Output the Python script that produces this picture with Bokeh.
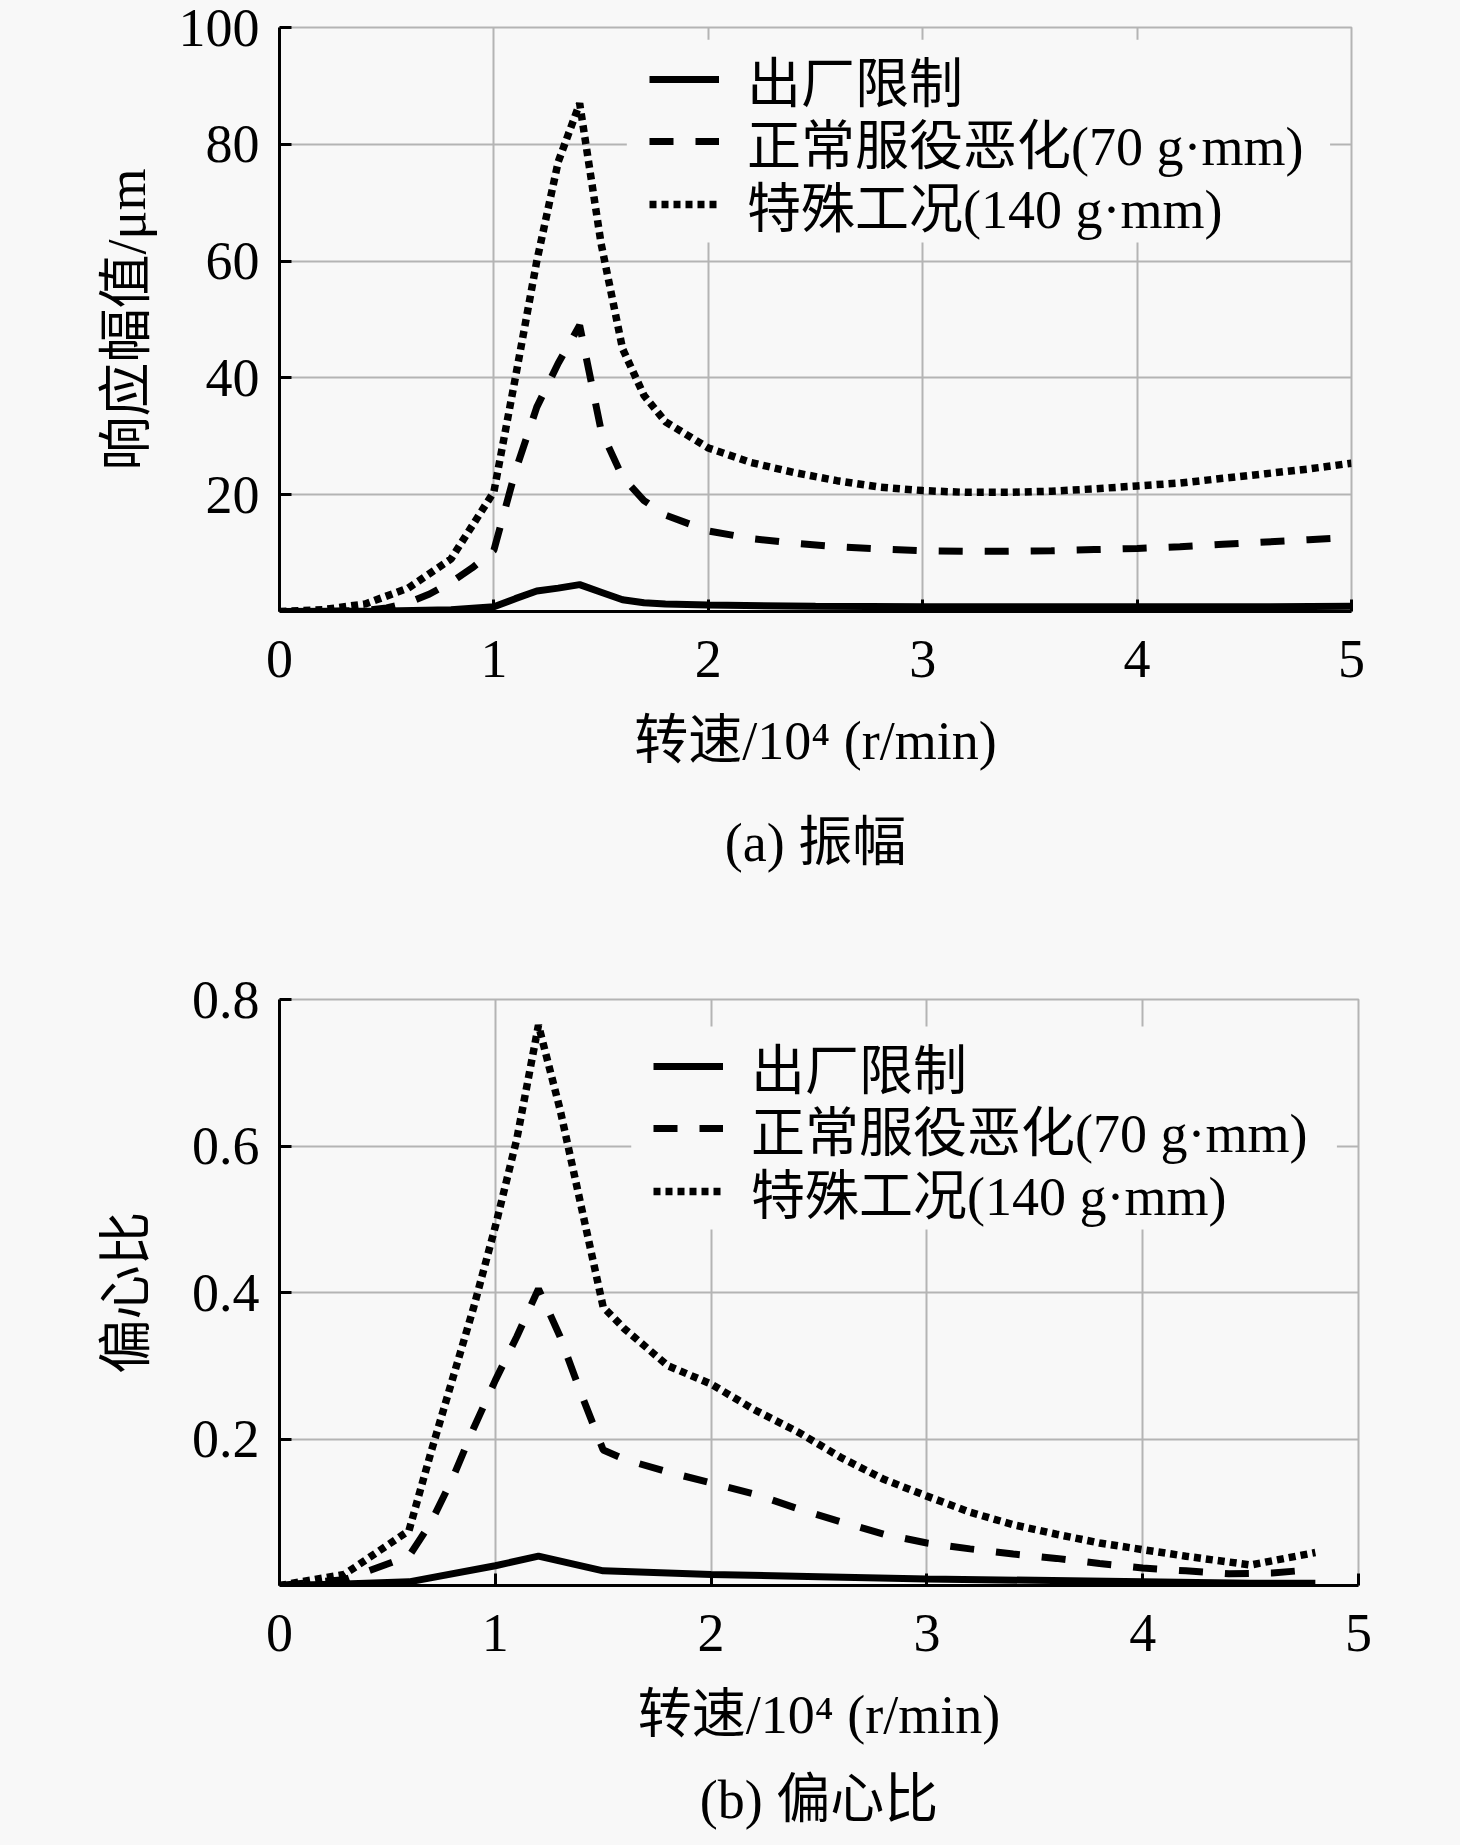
from bokeh.plotting import figure
from bokeh.layouts import column
from bokeh.models import Range1d, FixedTicker, Title, Legend, LegendItem, BoxAnnotation
from bokeh.embed import file_html
from bokeh.resources import INLINE

FONT = "'Liberation Serif', 'Noto Sans CJK SC'"
BG = "#f8f8f8"
GRID = "#b4b4b4"

names = ["出厂限制", "正常服役恶化(70 g·mm)", "特殊工况(140 g·mm)"]
x_ticks = [0, 1, 2, 3, 4, 5]

# (a) response amplitude, um  (speed in 10^4 r/min)
amp_x_limit = [0, 0.5, 0.8, 1.0, 1.1, 1.2, 1.3, 1.4, 1.5, 1.6, 1.7, 1.8, 2.0, 2.5, 3.0, 3.5, 4.0, 4.5, 5.0]
amp_limit = [0, 0.1, 0.3, 0.8, 2.2, 3.5, 4.0, 4.6, 3.3, 2.0, 1.5, 1.3, 1.1, 0.9, 0.8, 0.8, 0.8, 0.8, 0.9]

amp_x_normal = [0, 0.2, 0.4, 0.5, 0.6, 0.7, 0.8, 0.9, 1.0, 1.1, 1.2, 1.3, 1.4, 1.5, 1.6, 1.7, 1.8, 2.0,
                2.2, 2.4, 2.6, 2.8, 3.0, 3.2, 3.4, 3.6, 3.8, 4.0, 4.2, 4.4, 4.6, 4.8, 5.0]
amp_normal = [0, 0, 0.2, 0.6, 1.5, 3.0, 5.0, 7.5, 10.5, 24, 35, 42.5, 49, 31, 23, 19, 16.5, 13.8,
              12.5, 11.7, 11.1, 10.7, 10.4, 10.3, 10.3, 10.4, 10.6, 10.8, 11.1, 11.5, 11.9, 12.3, 12.7]

amp_x_special = [0, 0.2, 0.4, 0.6, 0.8, 1.0, 1.1, 1.2, 1.3, 1.4, 1.5, 1.6, 1.7, 1.8, 2.0, 2.2, 2.4, 2.6,
                 2.8, 3.0, 3.2, 3.4, 3.6, 3.8, 4.0, 4.2, 4.4, 4.6, 4.8, 5.0]
amp_special = [0, 0.3, 1.3, 4.0, 9.0, 20.5, 40, 60, 77, 87, 63, 45, 37, 32.5, 28, 25.5, 23.8, 22.4,
               21.3, 20.7, 20.4, 20.4, 20.6, 21.0, 21.5, 22.0, 22.8, 23.6, 24.4, 25.4]

amp_y_ticks = [20, 40, 60, 80, 100]

# (b) eccentricity ratio
ecc_x_limit = [0, 0.3, 0.6, 1.0, 1.2, 1.5, 2.0, 2.5, 3.0, 3.5, 4.0, 4.5, 4.8]
ecc_limit = [0, 0.002, 0.005, 0.027, 0.040, 0.020, 0.015, 0.012, 0.009, 0.007, 0.005, 0.003, 0.003]

ecc_x_normal = [0, 0.3, 0.6, 0.7, 0.8, 0.9, 1.0, 1.1, 1.2, 1.3, 1.4, 1.5, 1.6, 1.8, 2.0, 2.2, 2.4, 2.6,
                2.8, 3.0, 3.2, 3.4, 3.6, 3.8, 4.0, 4.2, 4.4, 4.6, 4.8]
ecc_normal = [0, 0.008, 0.04, 0.085, 0.145, 0.215, 0.28, 0.34, 0.405, 0.34, 0.26, 0.185, 0.172, 0.155,
              0.14, 0.125, 0.105, 0.087, 0.07, 0.058, 0.05, 0.043, 0.037, 0.03, 0.024, 0.02, 0.016, 0.017, 0.022]

ecc_x_special = [0, 0.3, 0.6, 0.7, 0.8, 0.9, 1.0, 1.1, 1.2, 1.3, 1.4, 1.5, 1.6, 1.8, 2.0, 2.2, 2.4, 2.6,
                 2.8, 3.0, 3.2, 3.4, 3.6, 3.8, 4.0, 4.2, 4.5, 4.8]
ecc_special = [0, 0.015, 0.075, 0.18, 0.28, 0.38, 0.49, 0.61, 0.765, 0.65, 0.515, 0.38, 0.35, 0.30,
               0.275, 0.24, 0.21, 0.175, 0.145, 0.122, 0.10, 0.083, 0.07, 0.058, 0.049, 0.04, 0.028, 0.045]

ecc_y_ticks = [0.2, 0.4, 0.6, 0.8]


def make_panel(curves, y_end, y_ticks, y_label, caption, left, frame_w, frame_h,
               top, bottom, legend_x, legend_ys, legend_bg, label_standoff, caption_standoff):
    p = figure(frame_width=frame_w, frame_height=frame_h,
               min_border_left=left, min_border_right=1460 - left - frame_w,
               min_border_top=top, min_border_bottom=bottom,
               x_range=Range1d(0, 5), y_range=Range1d(0, y_end),
               output_backend="svg", toolbar_location=None, tools="")
    p.background_fill_color = BG
    p.border_fill_color = BG
    p.outline_line_color = GRID
    p.outline_line_width = 2

    # blank patch behind the legend that hides the grid there
    bl, br, bb, bt = legend_bg
    p.add_layout(BoxAnnotation(left=bl, right=br, bottom=bb, top=bt,
                               fill_color=BG, fill_alpha=1, line_color=None))

    dashes = ["solid", "24 22", "7 5"]
    widths = [7, 7, 7.5]
    lines = []
    for (xs, ys), dash, w in zip(curves, dashes, widths):
        lines.append(p.line(xs, ys, line_color="black", line_width=w, line_dash=dash))

    for r, name, ly in zip(lines, names, legend_ys):
        lg = Legend(items=[LegendItem(label=name, renderers=[r])], location=(legend_x, ly))
        lg.background_fill_alpha = 0
        lg.border_line_color = None
        lg.label_text_font = FONT
        lg.label_text_font_size = "54px"
        lg.label_text_color = "black"
        lg.glyph_width = 70
        lg.glyph_height = 90
        lg.label_height = 90
        lg.label_standoff = 28
        lg.padding = 0
        lg.margin = 0
        p.add_layout(lg)

    p.xaxis.ticker = FixedTicker(ticks=x_ticks)
    p.yaxis.ticker = FixedTicker(ticks=y_ticks)
    for g in (p.xgrid, p.ygrid):
        g.grid_line_color = GRID
        g.grid_line_width = 2
    for ax in (p.xaxis, p.yaxis):
        ax.axis_line_width = 3
        ax.axis_line_color = "black"
        ax.major_tick_line_width = 3
        ax.major_tick_in = 12
        ax.major_tick_out = 0
        ax.minor_tick_in = 0
        ax.minor_tick_out = 0
        ax.major_label_text_font = FONT
        ax.major_label_text_font_size = "54px"
        ax.major_label_text_color = "black"
        ax.axis_label_text_font = FONT
        ax.axis_label_text_font_size = "54px"
        ax.axis_label_text_font_style = "normal"
        ax.axis_label_text_color = "black"
    p.yaxis.major_label_standoff = 20
    p.yaxis.axis_label = y_label
    p.yaxis.axis_label_standoff = label_standoff
    p.xaxis.major_label_standoff = 29
    p.xaxis.axis_label = "转速/10⁴ (r/min)"
    p.xaxis.axis_label_standoff = 31

    p.add_layout(Title(text=caption, align="center", text_font=FONT, text_font_size="54px",
                       text_font_style="normal", text_color="black",
                       standoff=caption_standoff), "below")
    return p


top_panel = make_panel(
    [(amp_x_limit, amp_limit), (amp_x_normal, amp_normal), (amp_x_special, amp_special)],
    100, amp_y_ticks, "响应幅值/μm", "(a) 振幅",
    left=279, frame_w=1072, frame_h=584, top=27, bottom=328,
    legend_x=370, legend_ys=[487, 425, 362], legend_bg=(1.62, 4.9, 63.2, 97.9),
    label_standoff=19, caption_standoff=75)

bottom_panel = make_panel(
    [(ecc_x_limit, ecc_limit), (ecc_x_normal, ecc_normal), (ecc_x_special, ecc_special)],
    0.8, ecc_y_ticks, "偏心比", "(b) 偏心比",
    left=275, frame_w=1079, frame_h=586, top=60, bottom=249,
    legend_x=374, legend_ys=[474, 412, 349], legend_bg=(1.63, 4.9, 0.486, 0.763),
    label_standoff=32, caption_standoff=40)

layout = column(top_panel, bottom_panel, spacing=0)
layout.styles = {"background-color": BG}

html = file_html(layout, INLINE)
html = html.replace("<body>", '<body style="background-color: %s;">' % BG, 1)
open("out.html", "w").write(html)
